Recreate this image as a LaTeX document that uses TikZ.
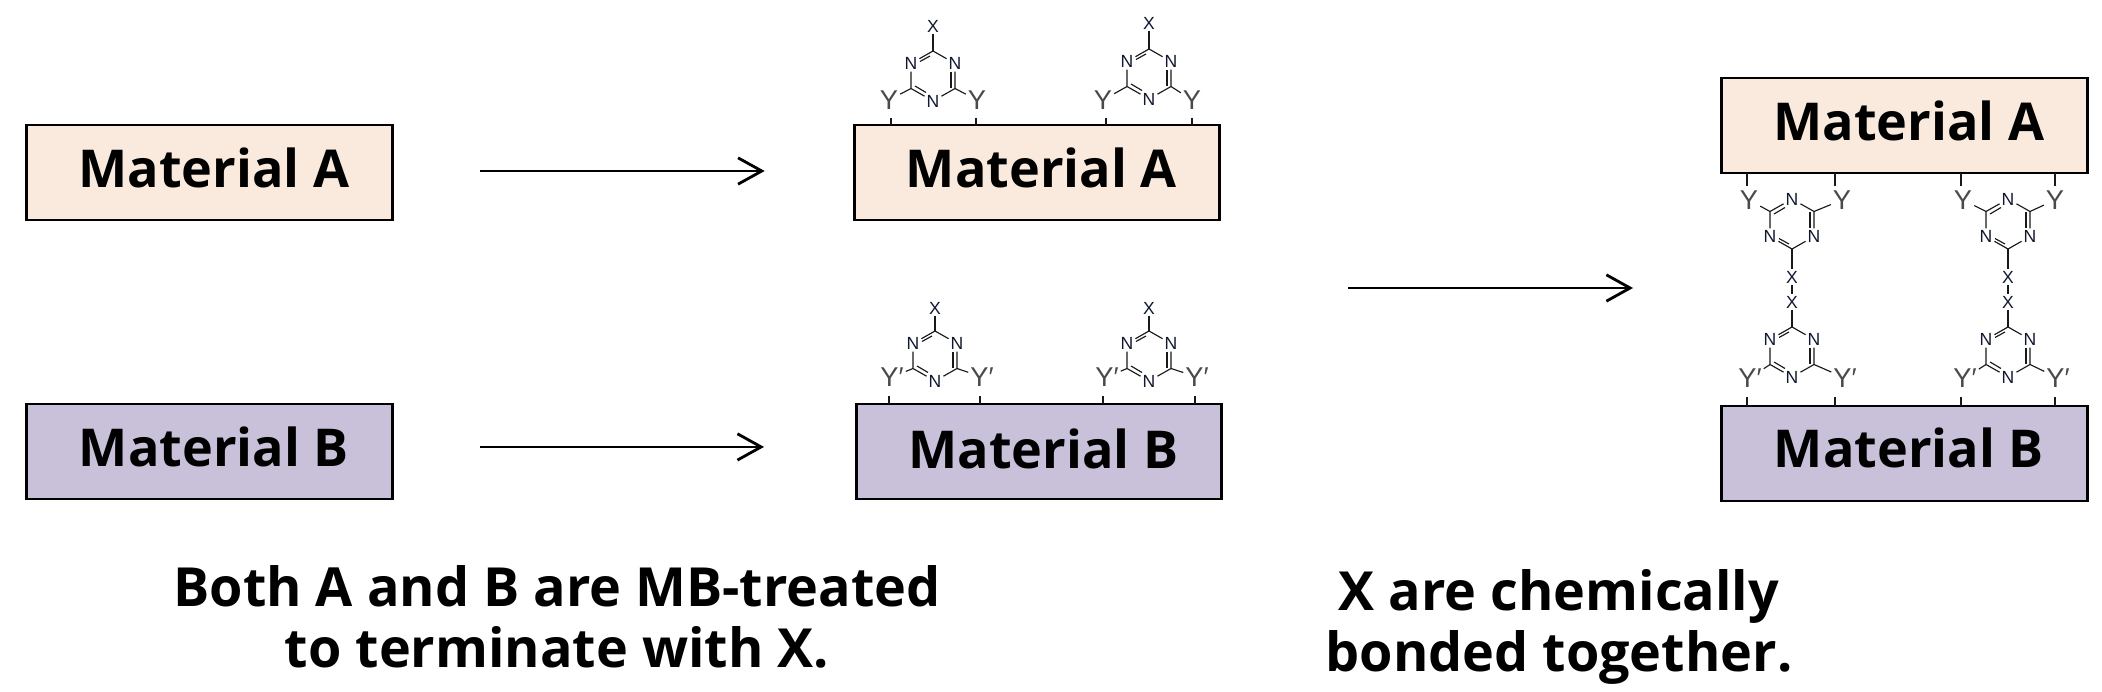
\documentclass[tikz,border=0pt]{standalone}
\usepackage{fontspec}
\setmainfont{Open Sans}
\newfontfamily\atomfont{Liberation Sans}
\usetikzlibrary{arrows.meta}

\definecolor{fillA}{HTML}{F9EADD}
\definecolor{fillB}{HTML}{C8C1D9}
\definecolor{groupgrey}{HTML}{4A4A4A}
\definecolor{atomink}{HTML}{101830}

\tikzset{
  matbox/.style={draw=black,line width=1.5pt,minimum width=208pt,minimum height=54pt,inner sep=0pt,outer sep=0pt,
    text height=21.6pt,text depth=4pt,font=\fontsize{29.7}{34}\selectfont\bfseries},
  caption/.style={align=center,font=\fontsize{30.7}{34.7}\selectfont\bfseries},
  flow/.style={line width=1.6pt,-{Straight Barb[length=13.5pt,width=15pt,line width=1.6pt]}},
  bond/.style={line width=0.65pt,black!90},
  atom/.style={inner sep=1pt,text=atomink,font=\atomfont\fontsize{10}{10}\selectfont},
  group/.style={inner sep=1pt,text=groupgrey,font=\atomfont\fontsize{15.5}{16}\selectfont},
  triazine/.pic={
    \coordinate (-ct) at (0,-25);
    \coordinate (-cl) at (-22,12.5);
    \coordinate (-cr) at (22,12.5);
    \node[atom] (-nl) at (-22,-12.5) {N};
    \node[atom] (-nr) at (22,-12.5) {N};
    \node[atom] (-nb) at (0,25) {N};
    \draw[bond] (-ct) -- (-nl) -- (-cl) -- (-nb) -- (-cr) -- (-nr) -- (-ct);
    % inner lines of the double bonds
    \draw[bond] (-13,-14.5) -- (-3,-20);
    \draw[bond] (-18,10) -- (-7,16.5);
    \draw[bond] (18,-4) -- (18,12);
  }
}

\begin{document}
\begin{tikzpicture}[x=0.02cm,y=-0.02cm]
\useasboundingbox (0,0) rectangle (2102,692);

% material blocks
\node[matbox,fill=fillA] (matA1) at (209.5,172.5) {\hspace*{5pt}Material A};
\node[matbox,fill=fillB] (matB1) at (209.5,451.5) {\hspace*{5pt}Material B};
\node[matbox,fill=fillA] (matA2) at (1037,172.5) {\hspace*{5pt}Material A};
\node[matbox,fill=fillB,text depth=2.8pt] (matB2) at (1039,451.5) {\hspace*{5pt}Material B};
\node[matbox,fill=fillA] (matA3) at (1904.5,125.5) {\hspace*{5pt}Material A};
\node[matbox,fill=fillB,text depth=6.2pt] (matB3) at (1904.5,453.5) {\hspace*{5pt}Material B};

% molecules: name / centre / flip / X height / Y label / Y positions
\foreach \n/\x/\y/\f/\xh/\lab/\xl/\xr/\yh in {
  mA1/933/76/1/26/Y/889/977/100,
  mA2/1149/74/1/23/Y/1103/1192/100,
  mB1/935/356/1/308/Y′/892/982/377,
  mB2/1149/356/1/308/Y′/1107/1197/377,
  mC1/1792/224/-1/277/Y/1749/1842/200,
  mC2/2008/224/-1/277/Y/1963/2055/200,
  mD1/1792/352/1/302/Y′/1750/1845/378,
  mD2/2008/352/1/302/Y′/1965/2058/378} {
  \pic[yscale=\f] (\n) at (\x,\y) {triazine};
  \node[atom] (\n-x) at (\x,\xh) {X};
  \node[group] (\n-yl) at (\xl,\yh) {\lab};
  \node[group] (\n-yr) at (\xr,\yh) {\lab};
  \draw[bond] (\n-ct) -- (\n-x);
  \draw[bond] (\n-cl) -- (\n-yl);
  \draw[bond] (\n-cr) -- (\n-yr);
}

% ticks on the blocks
\foreach \n/\xl/\xr/\yh/\b in {
  mA1/891/976/118/matA2.north,
  mA2/1106/1192/118/matA2.north,
  mB1/889/980/396/matB2.north,
  mB2/1103/1195/396/matB2.north,
  mC1/1747/1835/186/matA3.south,
  mC2/1961/2055/186/matA3.south,
  mD1/1747/1835/397/matB3.north,
  mD2/1961/2055/397/matB3.north} {
  \coordinate (\n-tl) at (\xl,\yh);
  \coordinate (\n-tr) at (\xr,\yh);
  \draw[bond] (\n-tl) -- (\n-tl |- \b);
  \draw[bond] (\n-tr) -- (\n-tr |- \b);
}

% X to X
\draw[bond] (mC1-x) -- (mD1-x);
\draw[bond] (mC2-x) -- (mD2-x);

% arrows
\draw[flow,shorten <=50pt,shorten >=51pt] ([yshift=0.85pt]matA1.east) -- ([yshift=0.85pt]matA2.west);
\draw[flow,shorten <=50pt,shorten >=52.5pt] ([yshift=2.6pt]matB1.east) -- ([yshift=2.6pt]matB2.west);
\coordinate (flowS) at (1348,288);
\coordinate (flowE) at (1633,288);
\draw[flow] (flowS) -- (flowE);

% captions
\node[caption,anchor=base] (capL) at (557,667) {Both A and B are MB-treated\\to terminate with X.};
\node[caption,anchor=base] (capR) at (1559,671) {X are chemically\\bonded together.};

\end{tikzpicture}
\end{document}
